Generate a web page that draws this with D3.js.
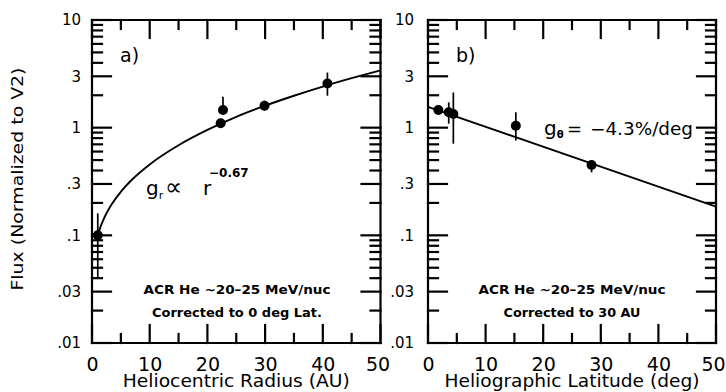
<!DOCTYPE html>
<html>
<head>
<meta charset="utf-8">
<script src="https://cdn.jsdelivr.net/npm/d3@7"></script>
<style>
  body { margin: 0; background: #fff; }
  svg text { font-family: "DejaVu Sans", sans-serif; fill: #000; }
</style>
</head>
<body>
<svg id="chart" width="726" height="392"></svg>
<script>
// panel a) flux vs heliocentric radius
const radiusX = [1, 22.3, 22.7, 29.9, 40.8];
const radiusFlux = [0.1, 1.1, 1.46, 1.6, 2.57];
const radiusErrLo = [0.04, 1.1, 1.35, 1.44, 1.98];
const radiusErrHi = [0.16, 1.1, 1.94, 1.78, 3.25];
// fitted curve
const radiusFitX = [1, 1.5, 2, 3, 5, 7, 10, 15, 20, 25, 30, 35, 40, 45, 50];
const radiusFitY = [0.1, 0.121, 0.141, 0.179, 0.254, 0.332, 0.456, 0.687, 0.953, 1.26, 1.6, 1.98, 2.41, 2.88, 3.41];

// panel b) flux vs heliographic latitude
const latX = [1.8, 3.6, 4.4, 15.25, 28.4];
const latFlux = [1.46, 1.39, 1.34, 1.04, 0.45];
const latErrLo = [1.46, 1.09, 0.71, 0.76, 0.385];
const latErrHi = [1.46, 1.72, 2.12, 1.39, 0.49];
const latFitX = [0, 50];
const latFitY = [1.56, 0.185];

// axes
const xTicks = [0, 10, 20, 30, 40, 50];
const xMinorTicks = [5, 15, 25, 35, 45];
const yTicks = [0.01, 0.03, 0.1, 0.3, 1, 3, 10];
const yTickLabels = ['.01', '.03', '.1', '.3', '1', '3', '10'];
const yMinorTicks = [];
[0.01, 0.1, 1].forEach(dec => [2, 4, 5, 6, 7, 8, 9].forEach(k => yMinorTicks.push(+(k * dec).toPrecision(3))));

const svg = d3.select('#chart');
const plotTop = 20, plotBottom = 343;

function drawPanel(cfg) {
  const w = cfg.right - cfg.left, h = plotBottom - plotTop;
  const g = svg.append('g').attr('transform', 'translate(' + cfg.left + ',' + plotTop + ')');
  const x = d3.scaleLinear().domain([0, 50]).range([0, w]);
  const y = d3.scaleLog().domain([0.01, 10]).range([h, 0]);

  // tick labels through d3 axes
  const yAxis = g.append('g')
    .call(d3.axisLeft(y).tickValues(yTicks).tickSize(0).tickPadding(cfg.yPad).tickFormat((d, i) => yTickLabels[i]));
  const xAxis = g.append('g').attr('transform', 'translate(0,' + h + ')')
    .call(d3.axisBottom(x).tickValues(xTicks).tickSize(0).tickPadding(15).tickFormat(d3.format('d')));
  [yAxis, xAxis].forEach(a => a.select('.domain').remove());
  yAxis.selectAll('text').attr('font-size', 15).attr('fill', '#000').style('font-family', '"DejaVu Sans", sans-serif');
  xAxis.selectAll('text').attr('font-size', 19).attr('fill', '#000').style('font-family', '"DejaVu Sans", sans-serif');
  xAxis.selectAll('text').filter(v => v === 50).attr('dx', -3);

  // fit line
  const line = d3.line().x(p => x(p[0])).y(p => y(p[1])).curve(d3.curveMonotoneX);
  g.append('path')
    .datum(cfg.fitX.map((v, i) => [v, cfg.fitY[i]]))
    .attr('d', line)
    .attr('fill', 'none').attr('stroke', '#000').attr('stroke-width', 1.9);

  // error bars and points
  const pts = cfg.px.map((v, i) => ({x: v, y: cfg.py[i], lo: cfg.lo[i], hi: cfg.hi[i]}));
  g.selectAll('.err').data(pts.filter(p => p.lo !== p.hi)).enter()
    .append('line').attr('class', 'err')
    .attr('x1', p => x(p.x)).attr('x2', p => x(p.x))
    .attr('y1', p => y(p.lo)).attr('y2', p => y(p.hi))
    .attr('stroke', '#000').attr('stroke-width', 1.7);
  g.selectAll('.pt').data(pts).enter()
    .append('circle').attr('class', 'pt')
    .attr('cx', p => x(p.x)).attr('cy', p => y(p.y)).attr('r', 5)
    .attr('fill', '#000');

  // inward tick marks on all four sides
  const yt = yTicks.map(v => [v, 19]).concat(yMinorTicks.map(v => [v, 10]));
  const xt = xTicks.map(v => [v, 18]).concat(xMinorTicks.map(v => [v, 9]));
  const segs = [];
  yt.forEach(t => {
    segs.push([0, y(t[0]), t[1], y(t[0])]);
    segs.push([w, y(t[0]), w - t[1], y(t[0])]);
  });
  xt.forEach(t => {
    segs.push([x(t[0]), h, x(t[0]), h - t[1]]);
    segs.push([x(t[0]), 0, x(t[0]), t[1]]);
  });
  g.append('g').selectAll('line').data(segs).enter().append('line')
    .attr('x1', s => s[0]).attr('y1', s => s[1]).attr('x2', s => s[2]).attr('y2', s => s[3])
    .attr('stroke', '#000').attr('stroke-width', 2.2).attr('stroke-linecap', 'square');

  g.append('path')
    .attr('d', 'M0,0H' + w + 'V' + h + 'H0Z')
    .attr('fill', 'none').attr('stroke', '#000').attr('stroke-width', 2.2);

  // x axis title
  svg.append('text')
    .attr('x', cfg.left + w / 2).attr('y', 387)
    .attr('text-anchor', 'middle')
    .attr('font-size', 18)
    .attr('textLength', cfg.titleLen).attr('lengthAdjust', 'spacingAndGlyphs')
    .text(cfg.title);

  // panel letter
  svg.append('text').attr('x', cfg.left + 28).attr('y', 62).attr('font-size', 19).text(cfg.letter);

  // bottom annotation
  cfg.note.forEach((t, i) => {
    svg.append('text')
      .attr('x', cfg.left + cfg.noteX).attr('y', 294 + i * 23)
      .attr('text-anchor', 'middle')
      .attr('font-size', 13).attr('font-weight', 'bold')
      .attr('textLength', cfg.noteLen[i]).attr('lengthAdjust', 'spacingAndGlyphs')
      .text(t);
  });
  return g;
}

drawPanel({
  left: 92, right: 380.5, yPad: 11,
  px: radiusX, py: radiusFlux, lo: radiusErrLo, hi: radiusErrHi,
  fitX: radiusFitX, fitY: radiusFitY,
  title: 'Heliocentric Radius (AU)', titleLen: 227, letter: 'a)',
  note: ['ACR He ~20\u201325 MeV/nuc', 'Corrected to 0 deg Lat.'], noteX: 145, noteLen: [187, 170]
});
drawPanel({
  left: 428, right: 716, yPad: 14,
  px: latX, py: latFlux, lo: latErrLo, hi: latErrHi,
  fitX: latFitX, fitY: latFitY,
  title: 'Heliographic Latitude (deg)', titleLen: 255, letter: 'b)',
  note: ['ACR He ~20\u201325 MeV/nuc', 'Corrected to 30 AU'], noteX: 144, noteLen: [187, 137]
});

// y axis title
svg.append('text')
  .attr('transform', 'translate(23,179) rotate(-90)')
  .attr('text-anchor', 'middle')
  .attr('font-size', 15)
  .attr('textLength', 223).attr('lengthAdjust', 'spacingAndGlyphs')
  .text('Flux (Normalized to V2)');

// gradient annotations
const ta = svg.append('text').attr('y', 195);
ta.append('tspan').attr('x', 146).attr('font-size', 20).text('g');
ta.append('tspan').attr('font-size', 11).attr('dy', 4).text('r');
ta.append('tspan').attr('x', 165).attr('dy', -4).attr('font-size', 24).text('\u221d');
ta.append('tspan').attr('x', 203).attr('font-size', 20).text('r');
ta.append('tspan').attr('x', 209).attr('dy', -18).attr('font-size', 12).attr('font-weight', 'bold').text('\u22120.67');

const tb = svg.append('text').attr('y', 135);
tb.append('tspan').attr('x', 544).attr('font-size', 20).text('g');
tb.append('tspan').attr('font-size', 10).attr('font-weight', 'bold').attr('dy', 3).text('\u03b8');
tb.append('tspan').attr('x', 567).attr('dy', -3).attr('font-size', 18).text('=');
svg.append('text').attr('x', 590).attr('y', 135).attr('font-size', 17)
  .attr('textLength', 103).attr('lengthAdjust', 'spacingAndGlyphs')
  .text('\u22124.3%/deg');
</script>
</body>
</html>
